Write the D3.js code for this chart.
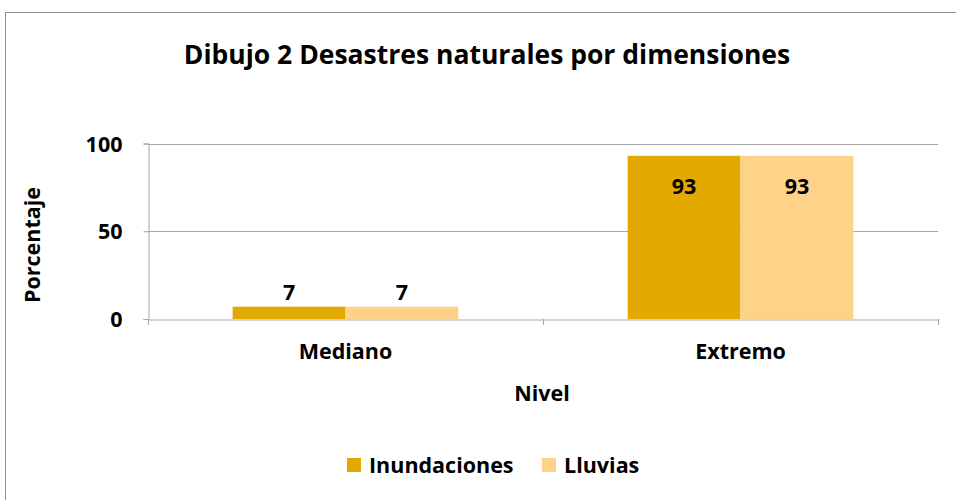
<!DOCTYPE html>
<html>
<head>
<meta charset="utf-8">
<script src="https://cdn.jsdelivr.net/npm/d3@7"></script>
<style>
  body { margin: 0; background: #fff; }
  svg text { font-family: "Open Sans", "Liberation Sans", sans-serif; font-weight: bold; fill: #000; }
</style>
</head>
<body>
<div id="chart"></div>
<script>
// data
const categories = ["Mediano", "Extremo"];
const seriesNames = ["Inundaciones", "Lluvias"];
const inundaciones = [7, 93];
const lluvias = [7, 93];
const yTicks = [0, 50, 100];

const colors = { Inundaciones: "#E2AA00", Lluvias: "#FFD28A" };

const W = 956, H = 500;
const plot = { left: 148, right: 938, top: 143.5, bottom: 319 };
const fs = "21.5px";

const svg = d3.select("#chart").append("svg")
  .attr("width", W).attr("height", H);

// outer chart border
svg.append("rect")
  .attr("x", 5.5).attr("y", 12.5)
  .attr("width", W + 10).attr("height", H)
  .attr("fill", "none").attr("stroke", "#8c8c8c");

const x0 = d3.scaleBand().domain(categories).range([plot.left, plot.right]);
// excel-like gap width (~75%)
const x1 = d3.scaleBand().domain(seriesNames)
  .range([0, x0.bandwidth()]).paddingOuter(0.75).paddingInner(0);
const y = d3.scaleLinear().domain([0, 100]).range([plot.bottom, plot.top]);

// gridlines
svg.append("g").selectAll("line").data(yTicks.filter(d => d > 0)).join("line")
  .attr("x1", plot.left).attr("x2", plot.right)
  .attr("y1", d => Math.round(y(d)) + 0.5).attr("y2", d => Math.round(y(d)) + 0.5)
  .attr("stroke", "#a6a6a6");

// y axis
const yAxis = svg.append("g")
  .attr("transform", `translate(${plot.left + 0.5},0)`)
  .call(d3.axisLeft(y).tickValues(yTicks).tickSize(5).tickPadding(21));
yAxis.select(".domain").attr("stroke", "#a6a6a6");
yAxis.selectAll(".tick line").attr("stroke", "#a6a6a6");
yAxis.selectAll("text").style("font-size", fs).attr("dy", "0.35em");

// bars
const rows = categories.map((c, i) => ({ cat: c, vals: [
  { s: "Inundaciones", v: inundaciones[i] },
  { s: "Lluvias", v: lluvias[i] }
]}));

const groups = svg.append("g").selectAll("g").data(rows).join("g")
  .attr("transform", d => `translate(${x0(d.cat)},0)`);

groups.selectAll("rect").data(d => d.vals).join("rect")
  .attr("x", d => x1(d.s))
  .attr("width", x1.bandwidth())
  .attr("y", d => y(d.v))
  .attr("height", d => y(0) - y(d.v))
  .attr("fill", d => colors[d.s]);

groups.selectAll("text.val").data(d => d.vals).join("text")
  .attr("class", "val")
  .attr("x", d => x1(d.s) + x1.bandwidth() / 2)
  .attr("y", d => d.v > 50 ? y(d.v) + 38 : y(d.v) - 7)
  .attr("text-anchor", "middle")
  .style("font-size", fs)
  .text(d => d.v);

// x axis
const xAxis = svg.append("g")
  .attr("transform", `translate(0,${plot.bottom + 0.5})`)
  .call(d3.axisBottom(x0).tickSize(0).tickPadding(24));
xAxis.select(".domain").attr("stroke", "#a6a6a6");
xAxis.selectAll("text").style("font-size", fs);
// boundary ticks between categories
svg.append("g").selectAll("line")
  .data([plot.left, x0("Extremo"), plot.right]).join("line")
  .attr("x1", d => Math.round(d) + 0.5).attr("x2", d => Math.round(d) + 0.5)
  .attr("y1", plot.bottom).attr("y2", plot.bottom + 6)
  .attr("stroke", "#a6a6a6");

// titles
svg.append("text").attr("x", 487).attr("y", 64).attr("text-anchor", "middle")
  .style("font-size", "26.5px").text("Dibujo 2 Desastres naturales por dimensiones");
svg.append("text").attr("x", 542).attr("y", 401).attr("text-anchor", "middle")
  .style("font-size", fs).text("Nivel");
svg.append("text").attr("transform", "translate(40,245) rotate(-90)")
  .attr("text-anchor", "middle").style("font-size", fs).text("Porcentaje");

// legend
const legend = svg.append("g");
const legX = [347, 542];
seriesNames.forEach((s, i) => {
  legend.append("rect").attr("x", legX[i]).attr("y", 458).attr("width", 14).attr("height", 14)
    .attr("fill", colors[s]);
  legend.append("text").attr("x", legX[i] + 22).attr("y", 473)
    .style("font-size", fs).text(s);
});
</script>
</body>
</html>
